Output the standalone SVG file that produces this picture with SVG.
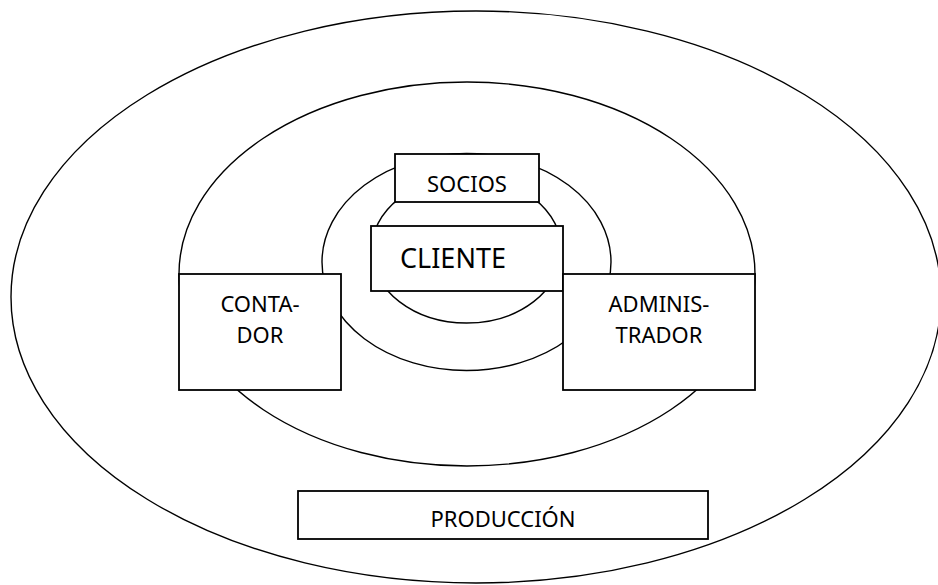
<svg xmlns="http://www.w3.org/2000/svg" width="938" height="585" viewBox="0 0 938 585">
<style>
.ring{fill:none;stroke:#000;stroke-width:1.4}
.box{fill:#fff;stroke:#000;stroke-width:1.8}
.t{font-family:"Noto Sans","Open Sans",sans-serif;font-size:22px;fill:#000;text-anchor:middle}
</style>
<rect x="0" y="0" width="938" height="585" fill="#fff"/>
<g id="rings">
<ellipse class="ring" cx="476" cy="297" rx="465" ry="286"/>
<ellipse class="ring" cx="467" cy="274" rx="288" ry="192"/>
<ellipse class="ring" cx="466.5" cy="262" rx="144.5" ry="108.5"/>
<ellipse class="ring" cx="466.5" cy="250" rx="95" ry="73"/>
</g>
<g id="socios">
<rect class="box" x="395" y="154" width="144" height="48"/>
<text class="t" x="467" y="192">SOCIOS</text>
</g>
<g id="cliente">
<rect class="box" x="371" y="226" width="192" height="65"/>
<text class="t" x="400" y="268" style="font-size:27px;text-anchor:start">CLIENTE</text>
</g>
<g id="contador">
<rect class="box" x="179" y="274" width="162" height="116"/>
<text class="t" x="260" y="312">CONTA-</text>
<text class="t" x="260" y="343">DOR</text>
</g>
<g id="administrador">
<rect class="box" x="563" y="274" width="192" height="116"/>
<text class="t" x="659" y="312">ADMINIS-</text>
<text class="t" x="659" y="343">TRADOR</text>
</g>
<g id="produccion">
<rect class="box" x="298" y="491" width="410" height="48"/>
<text class="t" x="503" y="527">PRODUCCIÓN</text>
</g>
<g id="connectors"></g>
</svg>
